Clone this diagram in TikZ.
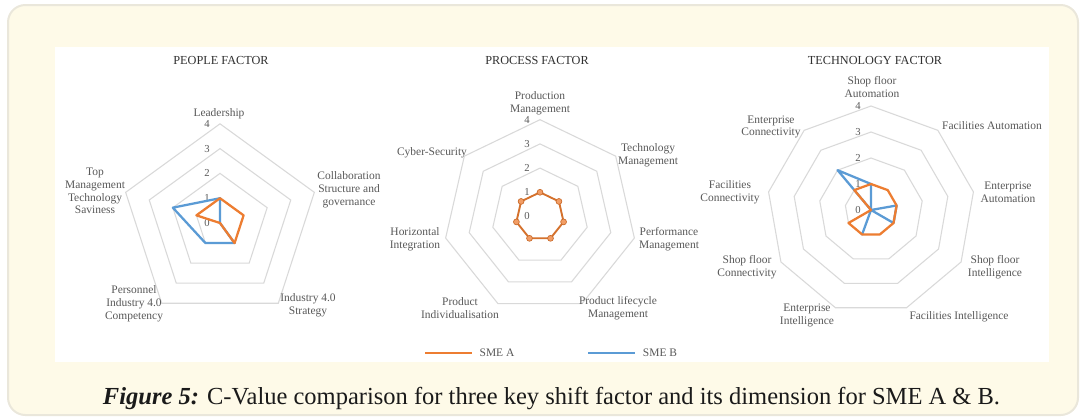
\documentclass[tikz,border=0pt]{standalone}
\usepackage{fontspec}
\setmainfont{Liberation Serif}
\definecolor{cream}{HTML}{FEFAE8}
\definecolor{creamborder}{HTML}{EAE7DB}
\definecolor{gridc}{HTML}{D9D9D9}
\definecolor{sac}{HTML}{ED7D31}
\definecolor{sbc}{HTML}{5B9BD5}
\definecolor{lblc}{HTML}{595959}
\definecolor{ttlc}{HTML}{303030}
\definecolor{capc}{HTML}{1A1A1A}
\newcommand{\radargrid}[2]{%
  \foreach \r in {1,2,3,4}{
    \draw[gridline] (-90:{\r*#2}) \foreach \k in {1,...,#1}{ -- ({-90+360*\k/#1}:{\r*#2}) } -- cycle;
  }}
\newcommand{\radarpts}[4]{%
  \foreach \v [count=\k from 0] in {#4}{ \coordinate (#1\k) at ({-90+360*\k/#2}:{\v*#3}); }}
\newcommand{\radarscale}[1]{%
  \foreach \r in {0,1,2,3,4}{ \node[scl] (s\r) at (-10,{-\r*#1}) {\r}; }}
\begin{document}
\begin{tikzpicture}[x=0.75pt,y=-0.75pt,
  gridline/.style={draw=gridc,line width=0.8pt},
  sline/.style={line width=1.7pt,line join=round,line cap=round},
  saline/.style={sline,draw=sac},
  sbline/.style={sline,draw=sbc},
  lab/.style={font=\fontsize{8.6}{9.6}\selectfont,text=lblc,align=center,inner sep=0pt},
  scl/.style={font=\fontsize{8}{9}\selectfont,text=lblc,inner sep=0pt,anchor=east},
  ttl/.style={font=\fontsize{9.2}{10}\selectfont,text=ttlc,inner sep=0pt},
  mark/.style={}]
\useasboundingbox (0,0) rectangle (1085,418);
% frame
\draw[draw=creamborder,line width=1.5pt,fill=cream,rounded corners=13pt] (8,5) rectangle (1078,415);
\fill[white] (55,47) rectangle (1049,362);

% ---------------- PEOPLE FACTOR ----------------
\node[ttl] (t1) at (221,60) {PEOPLE FACTOR};
\begin{scope}[shift={(220,223)}]
  \radargrid{5}{24.8}
  \foreach \r in {0,1,2,3,4}{ \node[scl] (ps\r) at (-10,{-\r*24.8}) {\r}; }
  \radarpts{pb}{5}{24.8}{1,0,1,1,2}
  \radarpts{pa}{5}{24.8}{1,1,1,0,1}
  \draw[sbline] (pb0) -- (pb1) -- (pb2) -- (pb3) -- (pb4) -- cycle;
  \draw[saline] (pa0) -- (pa1) -- (pa2) -- (pa3) -- (pa4) -- cycle;
\end{scope}
\node[lab] (p1) at (219,114) {Leadership};
\node[lab] (p2) at (349,190) {Collaboration\\Structure and\\governance};
\node[lab] (p3) at (308,305) {Industry 4.0\\Strategy};
\node[lab] (p4) at (134,304) {Personnel\\Industry 4.0\\Competency};
\node[lab] (p5) at (95,191) {Top\\Management\\Technology\\Saviness};

% ---------------- PROCESS FACTOR ----------------
\node[ttl] (t2) at (537,60) {PROCESS FACTOR};
\begin{scope}[shift={(540,216.5)}]
  \radargrid{7}{24.2}
  \foreach \r in {0,1,2,3,4}{ \node[scl] (qs\r) at (-10,{-\r*24.2}) {\r}; }
  \radarpts{qa}{7}{24.2}{1,1,1,1,1,1,1}
  \draw[saline,line width=1.4pt,draw=sac!90!black] (qa0) -- (qa1) -- (qa2) -- (qa3) -- (qa4) -- (qa5) -- (qa6) -- cycle;
  \foreach \k in {0,...,6}{ \fill[fill=sac!75!white,draw=sac!85!black,line width=0.5pt] (qa\k) circle[radius=2.2pt]; }
\end{scope}
\node[lab] (q1) at (540,103) {Production\\Management};
\node[lab] (q2) at (648,155) {Technology\\Management};
\node[lab] (q3) at (669,239) {Performance\\Management};
\node[lab] (q4) at (618,308) {Product lifecycle\\Management};
\node[lab] (q5) at (460,308) {Product\\Individualisation};
\node[lab] (q6) at (415,239) {Horizontal\\Integration};
\node[lab] (q7) at (432,153) {Cyber-Security};

% ---------------- TECHNOLOGY FACTOR ----------------
\node[ttl] (t3) at (875,60) {TECHNOLOGY FACTOR};
\begin{scope}[shift={(871,210)}]
  \radargrid{9}{26}
  \foreach \r in {0,1,2,3,4}{ \node[scl] (rs\r) at (-10,{-\r*26}) {\r}; }
  \radarpts{rb}{9}{26}{1,0,1,1,0,1,0,0,2}
  \radarpts{ra}{9}{26}{1,1,1,1,1,1,1,0,1}
  \draw[sbline] (rb0) -- (rb1) -- (rb2) -- (rb3) -- (rb4) -- (rb5) -- (rb6) -- (rb7) -- (rb8) -- cycle;
  \draw[saline] (ra0) -- (ra1) -- (ra2) -- (ra3) -- (ra4) -- (ra5) -- (ra6) -- (ra7) -- (ra8) -- cycle;
\end{scope}
\node[lab] (r1) at (872,87) {Shop floor\\Automation};
\node[lab] (r2) at (992,126) {Facilities Automation};
\node[lab] (r3) at (1008,192.5) {Enterprise\\Automation};
\node[lab] (r4) at (995,267) {Shop floor\\Intelligence};
\node[lab] (r5) at (959,316.7) {Facilities Intelligence};
\node[lab] (r6) at (807,315.5) {Enterprise\\Intelligence};
\node[lab] (r7) at (747,267) {Shop floor\\Connectivity};
\node[lab] (r8) at (730,192.5) {Facilities\\Connectivity};
\node[lab] (r9) at (771,127) {Enterprise\\Connectivity};

% ---------------- legend ----------------
\coordinate (la1) at (425,352.7);
\coordinate (la2) at (472,352.7);
\coordinate (lb1) at (588,352.7);
\coordinate (lb2) at (635,352.7);
\draw[draw=sac,line width=1.6pt] (la1) -- (la2);
\draw[draw=sbc,line width=1.6pt] (lb1) -- (lb2);
\node[lab] (lga) at (497,352.7) {SME A};
\node[lab] (lgb) at (660,352.7) {SME B};

% ---------------- caption ----------------
\node[anchor=base,inner sep=0pt,text=capc] (cap) at (551.5,404)
  {\resizebox{672.75pt}{!}{\fontsize{16}{18}\selectfont\textbf{\textit{Figure 5:}} C-Value comparison for three key shift factor and its dimension for SME A \& B.}};
\end{tikzpicture}
\end{document}
